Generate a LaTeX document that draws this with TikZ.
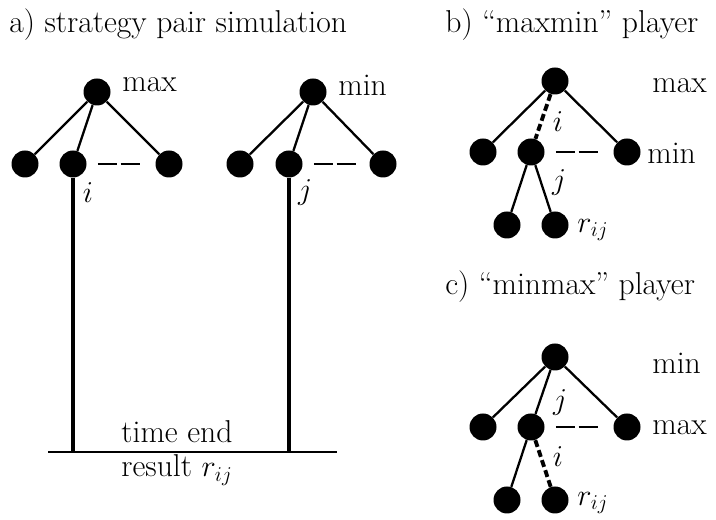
\documentclass[tikz,border=0pt]{standalone}
\usepackage{amsmath,amssymb}
\usepackage{tikz}
\usetikzlibrary{positioning, calc}

\newcommand{\figfont}{\fontsize{18}{22}\selectfont}

\begin{document}
\begin{tikzpicture}[
    dot/.style={circle, fill=black, inner sep=0pt, minimum size=0.54cm},
    edge/.style={line width=1.3pt},
    pathline/.style={line width=1.8pt},
    mv/.style={line width=2.2pt, dash pattern=on 4pt off 2pt},
    sib/.style={line width=1.3pt, dash pattern=on 11pt off 2pt, shorten <=0.22cm, shorten >=0.24cm},
    ttl/.style={anchor=west, font=\figfont, inner sep=0pt},
    lbl/.style={anchor=west, font=\figfont, inner sep=0pt},
    ix/.style={font=\figfont, inner sep=1pt}
]
\useasboundingbox (0,0) rectangle (14.32,10.4);

% titles
\node[ttl] (ta) at (0.18, 9.9) {a) strategy pair simulation};
\node[ttl] (tb) at (8.9, 9.9) {b) ``maxmin'' player};
\node[ttl] (tc) at (8.9, 4.66) {c) ``minmax'' player};

% a) first tree
\node[dot] (r1) at (1.94, 8.56) {};
\node[dot] (a1) at (0.50, 7.12) {};
\node[dot] (b1) at (1.46, 7.12) {};
\node[dot] (c1) at (3.38, 7.12) {};
\node[lbl] (l1) at (2.44, 8.70) {max};
\node[ix]  (i1) at (1.76, 6.54) {$i$};
\draw[edge] (r1) -- (a1) (r1) -- (b1) (r1) -- (c1);
\draw[sib] (b1) -- (c1);

% a) second tree
\node[dot] (r2) at (6.26, 8.56) {};
\node[dot] (a2) at (4.80, 7.12) {};
\node[dot] (b2) at (5.78, 7.12) {};
\node[dot] (c2) at (7.66, 7.12) {};
\node[lbl] (l2) at (6.76, 8.70) {min};
\node[ix]  (j2) at (6.10, 6.54) {$j$};
\draw[edge] (r2) -- (a2) (r2) -- (b2) (r2) -- (c2);
\draw[sib] (b2) -- (c2);

% time end line
\coordinate (tl) at (0.96, 1.36);
\coordinate (tr) at (6.74, 1.36);
\draw[edge] (tl) -- (tr);
\draw[pathline] (b1) -- (b1 |- tl);
\draw[pathline] (b2) -- (b2 |- tl);
\node[font=\figfont] (te) at (3.54, 1.76) {time end};
\node[font=\figfont] (re) at (3.54, 1.00) {result $r_{ij}$};

% b) maxmin
\node[dot] (rb) at (11.10, 8.78) {};
\node[dot] (ab) at (9.66, 7.36) {};
\node[dot] (bb) at (10.62, 7.36) {};
\node[dot] (cb) at (12.54, 7.36) {};
\node[dot] (db) at (10.14, 5.90) {};
\node[dot] (eb) at (11.10, 5.90) {};
\draw[edge] (rb) -- (ab) (rb) -- (cb) (bb) -- (db) (bb) -- (eb);
\draw[mv] (rb) -- (bb);
\draw[sib] (bb) -- (cb);
\node[lbl] (mxb) at (13.04, 8.68) {max};
\node[lbl] (mnb) at (12.94, 7.34) {min};
\node[ix]  (ib) at (11.16, 7.96) {$i$};
\node[ix]  (jb) at (11.18, 6.74) {$j$};
\node[ix]  (rijb) at (11.86, 5.80) {$r_{ij}$};

% c) minmax
\node[dot] (rc) at (11.10, 3.26) {};
\node[dot] (ac) at (9.66, 1.86) {};
\node[dot] (bc) at (10.62, 1.86) {};
\node[dot] (cc) at (12.54, 1.86) {};
\node[dot] (dc) at (10.14, 0.40) {};
\node[dot] (ec) at (11.10, 0.40) {};
\draw[edge] (rc) -- (ac) (rc) -- (bc) (rc) -- (cc) (bc) -- (dc);
\draw[mv] (bc) -- (ec);
\draw[sib] (bc) -- (cc);
\node[lbl] (mnc) at (13.04, 3.14) {min};
\node[lbl] (mxc) at (13.04, 1.84) {max};
\node[ix]  (jc) at (11.20, 2.34) {$j$};
\node[ix]  (ic) at (11.16, 1.26) {$i$};
\node[ix]  (rijc) at (11.86, 0.34) {$r_{ij}$};
\end{tikzpicture}
\end{document}
